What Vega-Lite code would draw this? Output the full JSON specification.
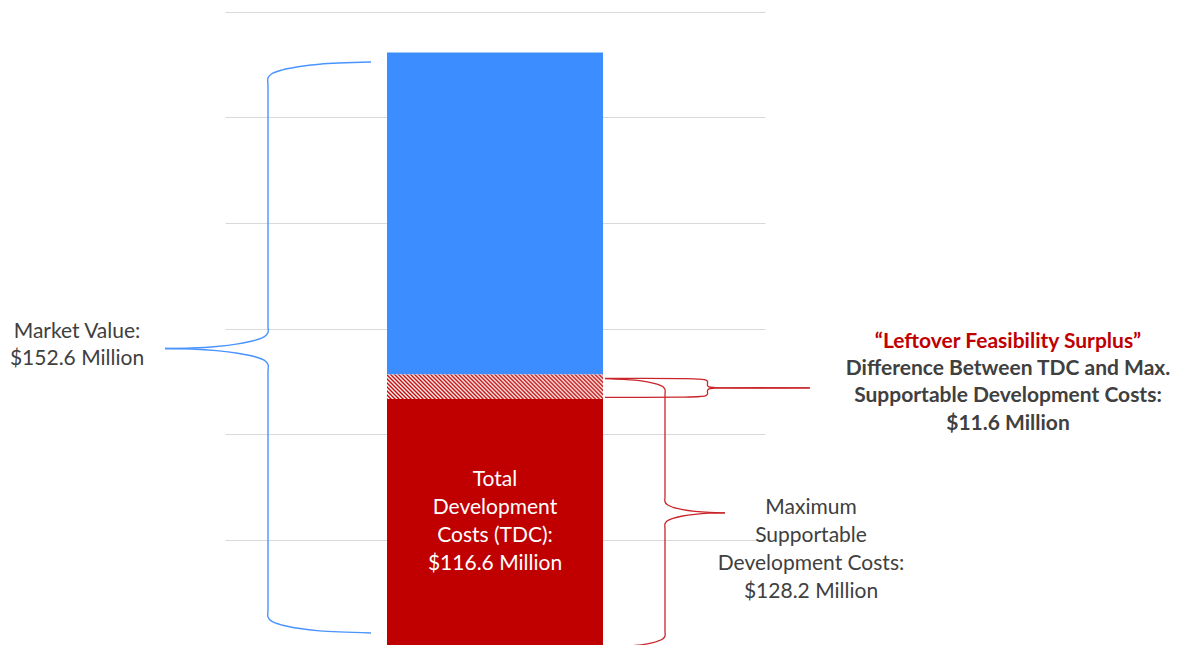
{
  "$schema": "https://vega.github.io/schema/vega-lite/v6.json",
  "width": 540,
  "height": 633,
  "autosize": {"type": "none"},
  "padding": {"left": 225, "top": 12, "right": 416, "bottom": 0},
  "background": "white",
  "config": {"view": {"stroke": null}, "text": {"font": "Lato"}},
  "datasets": {
    "segments": [
      {"segment": "Total Development Costs (TDC)", "value": 116.6, "stackOrder": 1},
      {"segment": "Leftover Feasibility Surplus", "value": 11.6, "stackOrder": 2},
      {"segment": "Market Value", "value": 152.6, "stackOrder": 3}
    ],
    "braces": [
      {"brace": "market", "part": "a", "i": 1, "bx": 146, "by": 276.27},
      {"brace": "market", "part": "a", "i": 2, "bx": 94.5, "by": 275.27},
      {"brace": "market", "part": "a", "i": 3, "bx": 73.2, "by": 274.03},
      {"brace": "market", "part": "a", "i": 4, "bx": 56.8, "by": 272.47},
      {"brace": "market", "part": "a", "i": 5, "bx": 46.5, "by": 270.62},
      {"brace": "market", "part": "a", "i": 6, "bx": 43, "by": 268.67},
      {"brace": "market", "part": "a", "i": 6.5, "bx": 43, "by": 265},
      {"brace": "market", "part": "a", "i": 6.7, "bx": 43, "by": 151.5},
      {"brace": "market", "part": "a", "i": 7, "bx": 43, "by": 148.1},
      {"brace": "market", "part": "a", "i": 8, "bx": 39.5, "by": 146.15},
      {"brace": "market", "part": "a", "i": 9, "bx": 29.2, "by": 144.3},
      {"brace": "market", "part": "a", "i": 10, "bx": 12.8, "by": 142.74},
      {"brace": "market", "part": "a", "i": 11, "bx": -8.5, "by": 141.5},
      {"brace": "market", "part": "a", "i": 12, "bx": -33.3, "by": 140.74},
      {"brace": "market", "part": "a", "i": 13, "bx": -60, "by": 140.51},
      {"brace": "market", "part": "b", "i": 13, "bx": -60, "by": 140.51},
      {"brace": "market", "part": "b", "i": 14, "bx": -33.3, "by": 140.27},
      {"brace": "market", "part": "b", "i": 15, "bx": -8.5, "by": 139.51},
      {"brace": "market", "part": "b", "i": 16, "bx": 12.8, "by": 138.28},
      {"brace": "market", "part": "b", "i": 17, "bx": 29.2, "by": 136.71},
      {"brace": "market", "part": "b", "i": 18, "bx": 39.5, "by": 134.86},
      {"brace": "market", "part": "b", "i": 19, "bx": 43, "by": 132.91},
      {"brace": "market", "part": "b", "i": 19.3, "bx": 43, "by": 129.5},
      {"brace": "market", "part": "b", "i": 19.7, "bx": 43, "by": 16.7},
      {"brace": "market", "part": "b", "i": 20, "bx": 43, "by": 13.29},
      {"brace": "market", "part": "b", "i": 21, "bx": 46.5, "by": 11.34},
      {"brace": "market", "part": "b", "i": 22, "bx": 56.8, "by": 9.49},
      {"brace": "market", "part": "b", "i": 23, "bx": 73.2, "by": 7.93},
      {"brace": "market", "part": "b", "i": 24, "bx": 94.5, "by": 6.69},
      {"brace": "market", "part": "b", "i": 25, "bx": 146, "by": 5.7},

      {"brace": "max", "part": "a", "i": 1, "bx": 380, "by": 126.27},
      {"brace": "max", "part": "a", "i": 2, "bx": 410, "by": 125.55},
      {"brace": "max", "part": "a", "i": 3, "bx": 422.4, "by": 124.75},
      {"brace": "max", "part": "a", "i": 4, "bx": 432, "by": 123.65},
      {"brace": "max", "part": "a", "i": 5, "bx": 438, "by": 122.37},
      {"brace": "max", "part": "a", "i": 6, "bx": 440, "by": 121.04},
      {"brace": "max", "part": "a", "i": 6.3, "bx": 440, "by": 118.5},
      {"brace": "max", "part": "a", "i": 6.7, "bx": 440, "by": 70.4},
      {"brace": "max", "part": "a", "i": 7, "bx": 440, "by": 67.88},
      {"brace": "max", "part": "a", "i": 8, "bx": 442, "by": 66.55},
      {"brace": "max", "part": "a", "i": 9, "bx": 448, "by": 65.27},
      {"brace": "max", "part": "a", "i": 10, "bx": 457.6, "by": 64.18},
      {"brace": "max", "part": "a", "i": 11, "bx": 470, "by": 63.37},
      {"brace": "max", "part": "a", "i": 12, "bx": 484.5, "by": 62.85},
      {"brace": "max", "part": "a", "i": 13, "bx": 500, "by": 62.66},
      {"brace": "max", "part": "b", "i": 13, "bx": 500, "by": 62.66},
      {"brace": "max", "part": "b", "i": 14, "bx": 484.5, "by": 62.47},
      {"brace": "max", "part": "b", "i": 15, "bx": 470, "by": 61.95},
      {"brace": "max", "part": "b", "i": 16, "bx": 457.6, "by": 61.14},
      {"brace": "max", "part": "b", "i": 17, "bx": 448, "by": 60.05},
      {"brace": "max", "part": "b", "i": 18, "bx": 442, "by": 58.77},
      {"brace": "max", "part": "b", "i": 19, "bx": 440, "by": 57.44},
      {"brace": "max", "part": "b", "i": 19.3, "bx": 440, "by": 54.9},
      {"brace": "max", "part": "b", "i": 19.7, "bx": 440, "by": 6.8},
      {"brace": "max", "part": "b", "i": 20, "bx": 440, "by": 4.27},
      {"brace": "max", "part": "b", "i": 21, "bx": 438, "by": 2.94},
      {"brace": "max", "part": "b", "i": 22, "bx": 432, "by": 1.66},
      {"brace": "max", "part": "b", "i": 23, "bx": 422.4, "by": 0.57},
      {"brace": "max", "part": "b", "i": 24, "bx": 410, "by": -0.24},
      {"brace": "max", "part": "b", "i": 25, "bx": 380, "by": -0.95},

      {"brace": "surplus", "part": "a", "i": 1, "bx": 380, "by": 126.41},
      {"brace": "surplus", "part": "a", "i": 2, "bx": 455, "by": 126.27},
      {"brace": "surplus", "part": "a", "i": 3, "bx": 475, "by": 125.98},
      {"brace": "surplus", "part": "a", "i": 4, "bx": 481, "by": 125.55},
      {"brace": "surplus", "part": "a", "i": 5, "bx": 482.5, "by": 124.84},
      {"brace": "surplus", "part": "a", "i": 6, "bx": 482.5, "by": 123.04},
      {"brace": "surplus", "part": "a", "i": 7, "bx": 484, "by": 122.33},
      {"brace": "surplus", "part": "a", "i": 8, "bx": 490, "by": 121.99},
      {"brace": "surplus", "part": "a", "i": 9, "bx": 585, "by": 121.85},
      {"brace": "surplus", "part": "b", "i": 9, "bx": 585, "by": 121.85},
      {"brace": "surplus", "part": "b", "i": 10, "bx": 490, "by": 121.71},
      {"brace": "surplus", "part": "b", "i": 11, "bx": 484, "by": 121.38},
      {"brace": "surplus", "part": "b", "i": 12, "bx": 482.5, "by": 120.66},
      {"brace": "surplus", "part": "b", "i": 13, "bx": 482.5, "by": 118.91},
      {"brace": "surplus", "part": "b", "i": 14, "bx": 481, "by": 118.2},
      {"brace": "surplus", "part": "b", "i": 15, "bx": 475, "by": 117.77},
      {"brace": "surplus", "part": "b", "i": 16, "bx": 455, "by": 117.48},
      {"brace": "surplus", "part": "b", "i": 17, "bx": 380, "by": 117.34}
    ]
  },
  "layer": [
    {
      "data": {"name": "segments"},
      "transform": [
        {"stack": "value", "groupby": [], "sort": [{"field": "stackOrder", "order": "ascending"}], "as": ["v0", "v1"]},
        {"filter": "datum.segment !== 'Leftover Feasibility Surplus'"}
      ],
      "mark": {"type": "rect"},
      "encoding": {
        "x": {"datum": 162, "type": "quantitative", "scale": {"domain": [0, 540], "nice": false, "zero": false}, "axis": null},
        "x2": {"datum": 378},
        "y": {"field": "v0", "type": "quantitative", "scale": {"domain": [0, 300], "nice": false},
              "axis": {"values": [50, 100, 150, 200, 250, 300], "grid": true, "gridColor": "#d9d9d9", "gridWidth": 1, "labels": false, "ticks": false, "domain": false, "title": null}},
        "y2": {"field": "v1"},
        "color": {"field": "segment", "type": "nominal", "scale": {"domain": ["Total Development Costs (TDC)", "Market Value"], "range": ["#C00000", "#3C8DFF"]}, "legend": null}
      }
    },
    {
      "data": {"name": "segments"},
      "transform": [
        {"stack": "value", "groupby": [], "sort": [{"field": "stackOrder", "order": "ascending"}], "as": ["v0", "v1"]},
        {"filter": "datum.segment === 'Leftover Feasibility Surplus'"}
      ],
      "mark": {"type": "rect", "fill": {"gradient": "linear", "x1": 0, "y1": 1, "x2": 1.099, "y2": 0.876, "stops": [
        {"offset": 0, "color": "#C00000"}, {"offset": 0.0083, "color": "#FFFFFF"}, {"offset": 0.0167, "color": "#C00000"}, {"offset": 0.025, "color": "#FFFFFF"},
        {"offset": 0.0333, "color": "#C00000"}, {"offset": 0.0417, "color": "#FFFFFF"}, {"offset": 0.05, "color": "#C00000"}, {"offset": 0.0583, "color": "#FFFFFF"},
        {"offset": 0.0667, "color": "#C00000"}, {"offset": 0.075, "color": "#FFFFFF"}, {"offset": 0.0833, "color": "#C00000"}, {"offset": 0.0917, "color": "#FFFFFF"},
        {"offset": 0.1, "color": "#C00000"}, {"offset": 0.1083, "color": "#FFFFFF"}, {"offset": 0.1167, "color": "#C00000"}, {"offset": 0.125, "color": "#FFFFFF"},
        {"offset": 0.1333, "color": "#C00000"}, {"offset": 0.1417, "color": "#FFFFFF"}, {"offset": 0.15, "color": "#C00000"}, {"offset": 0.1583, "color": "#FFFFFF"},
        {"offset": 0.1667, "color": "#C00000"}, {"offset": 0.175, "color": "#FFFFFF"}, {"offset": 0.1833, "color": "#C00000"}, {"offset": 0.1917, "color": "#FFFFFF"},
        {"offset": 0.2, "color": "#C00000"}, {"offset": 0.2083, "color": "#FFFFFF"}, {"offset": 0.2167, "color": "#C00000"}, {"offset": 0.225, "color": "#FFFFFF"},
        {"offset": 0.2333, "color": "#C00000"}, {"offset": 0.2417, "color": "#FFFFFF"}, {"offset": 0.25, "color": "#C00000"}, {"offset": 0.2583, "color": "#FFFFFF"},
        {"offset": 0.2667, "color": "#C00000"}, {"offset": 0.275, "color": "#FFFFFF"}, {"offset": 0.2833, "color": "#C00000"}, {"offset": 0.2917, "color": "#FFFFFF"},
        {"offset": 0.3, "color": "#C00000"}, {"offset": 0.3083, "color": "#FFFFFF"}, {"offset": 0.3167, "color": "#C00000"}, {"offset": 0.325, "color": "#FFFFFF"},
        {"offset": 0.3333, "color": "#C00000"}, {"offset": 0.3417, "color": "#FFFFFF"}, {"offset": 0.35, "color": "#C00000"}, {"offset": 0.3583, "color": "#FFFFFF"},
        {"offset": 0.3667, "color": "#C00000"}, {"offset": 0.375, "color": "#FFFFFF"}, {"offset": 0.3833, "color": "#C00000"}, {"offset": 0.3917, "color": "#FFFFFF"},
        {"offset": 0.4, "color": "#C00000"}, {"offset": 0.4083, "color": "#FFFFFF"}, {"offset": 0.4167, "color": "#C00000"}, {"offset": 0.425, "color": "#FFFFFF"},
        {"offset": 0.4333, "color": "#C00000"}, {"offset": 0.4417, "color": "#FFFFFF"}, {"offset": 0.45, "color": "#C00000"}, {"offset": 0.4583, "color": "#FFFFFF"},
        {"offset": 0.4667, "color": "#C00000"}, {"offset": 0.475, "color": "#FFFFFF"}, {"offset": 0.4833, "color": "#C00000"}, {"offset": 0.4917, "color": "#FFFFFF"},
        {"offset": 0.5, "color": "#C00000"}, {"offset": 0.5083, "color": "#FFFFFF"}, {"offset": 0.5167, "color": "#C00000"}, {"offset": 0.525, "color": "#FFFFFF"},
        {"offset": 0.5333, "color": "#C00000"}, {"offset": 0.5417, "color": "#FFFFFF"}, {"offset": 0.55, "color": "#C00000"}, {"offset": 0.5583, "color": "#FFFFFF"},
        {"offset": 0.5667, "color": "#C00000"}, {"offset": 0.575, "color": "#FFFFFF"}, {"offset": 0.5833, "color": "#C00000"}, {"offset": 0.5917, "color": "#FFFFFF"},
        {"offset": 0.6, "color": "#C00000"}, {"offset": 0.6083, "color": "#FFFFFF"}, {"offset": 0.6167, "color": "#C00000"}, {"offset": 0.625, "color": "#FFFFFF"},
        {"offset": 0.6333, "color": "#C00000"}, {"offset": 0.6417, "color": "#FFFFFF"}, {"offset": 0.65, "color": "#C00000"}, {"offset": 0.6583, "color": "#FFFFFF"},
        {"offset": 0.6667, "color": "#C00000"}, {"offset": 0.675, "color": "#FFFFFF"}, {"offset": 0.6833, "color": "#C00000"}, {"offset": 0.6917, "color": "#FFFFFF"},
        {"offset": 0.7, "color": "#C00000"}, {"offset": 0.7083, "color": "#FFFFFF"}, {"offset": 0.7167, "color": "#C00000"}, {"offset": 0.725, "color": "#FFFFFF"},
        {"offset": 0.7333, "color": "#C00000"}, {"offset": 0.7417, "color": "#FFFFFF"}, {"offset": 0.75, "color": "#C00000"}, {"offset": 0.7583, "color": "#FFFFFF"},
        {"offset": 0.7667, "color": "#C00000"}, {"offset": 0.775, "color": "#FFFFFF"}, {"offset": 0.7833, "color": "#C00000"}, {"offset": 0.7917, "color": "#FFFFFF"},
        {"offset": 0.8, "color": "#C00000"}, {"offset": 0.8083, "color": "#FFFFFF"}, {"offset": 0.8167, "color": "#C00000"}, {"offset": 0.825, "color": "#FFFFFF"},
        {"offset": 0.8333, "color": "#C00000"}, {"offset": 0.8417, "color": "#FFFFFF"}, {"offset": 0.85, "color": "#C00000"}, {"offset": 0.8583, "color": "#FFFFFF"},
        {"offset": 0.8667, "color": "#C00000"}, {"offset": 0.875, "color": "#FFFFFF"}, {"offset": 0.8833, "color": "#C00000"}, {"offset": 0.8917, "color": "#FFFFFF"},
        {"offset": 0.9, "color": "#C00000"}, {"offset": 0.9083, "color": "#FFFFFF"}, {"offset": 0.9167, "color": "#C00000"}, {"offset": 0.925, "color": "#FFFFFF"},
        {"offset": 0.9333, "color": "#C00000"}, {"offset": 0.9417, "color": "#FFFFFF"}, {"offset": 0.95, "color": "#C00000"}, {"offset": 0.9583, "color": "#FFFFFF"},
        {"offset": 0.9667, "color": "#C00000"}, {"offset": 0.975, "color": "#FFFFFF"}, {"offset": 0.9833, "color": "#C00000"}, {"offset": 0.9917, "color": "#FFFFFF"},
        {"offset": 1, "color": "#C00000"}
      ]}},
      "encoding": {
        "x": {"datum": 162, "type": "quantitative", "scale": {"domain": [0, 540], "nice": false, "zero": false}, "axis": null},
        "x2": {"datum": 378},
        "y": {"field": "v0", "type": "quantitative", "scale": {"domain": [0, 300], "nice": false},
              "axis": {"values": [50, 100, 150, 200, 250, 300], "grid": true, "gridColor": "#d9d9d9", "gridWidth": 1, "labels": false, "ticks": false, "domain": false, "title": null}},
        "y2": {"field": "v1"}
      }
    },
    {
      "data": {"name": "braces"},
      "transform": [{"filter": "datum.brace === 'market'"}],
      "mark": {"type": "line", "interpolate": "catmull-rom", "color": "#4A94FF", "strokeWidth": 1.4},
      "encoding": {
        "x": {"field": "bx", "type": "quantitative", "scale": {"domain": [0, 540], "nice": false, "zero": false}, "axis": null},
        "y": {"field": "by", "type": "quantitative", "scale": {"domain": [0, 300], "nice": false},
              "axis": {"values": [50, 100, 150, 200, 250, 300], "grid": true, "gridColor": "#d9d9d9", "gridWidth": 1, "labels": false, "ticks": false, "domain": false, "title": null}},
        "detail": [{"field": "brace", "type": "nominal"}, {"field": "part", "type": "nominal"}],
        "order": {"field": "i", "type": "quantitative"}
      }
    },
    {
      "data": {"name": "braces"},
      "transform": [{"filter": "datum.brace !== 'market'"}],
      "mark": {"type": "line", "interpolate": "catmull-rom", "color": "#C9262B", "strokeWidth": 1.3},
      "encoding": {
        "x": {"field": "bx", "type": "quantitative", "scale": {"domain": [0, 540], "nice": false, "zero": false}, "axis": null},
        "y": {"field": "by", "type": "quantitative", "scale": {"domain": [0, 300], "nice": false},
              "axis": {"values": [50, 100, 150, 200, 250, 300], "grid": true, "gridColor": "#d9d9d9", "gridWidth": 1, "labels": false, "ticks": false, "domain": false, "title": null}},
        "detail": [{"field": "brace", "type": "nominal"}, {"field": "part", "type": "nominal"}],
        "order": {"field": "i", "type": "quantitative"}
      }
    },
    {
      "data": {"values": [{"label": "Total\nDevelopment\nCosts (TDC):\n$116.6 Million"}]},
      "mark": {"type": "text", "font": "Lato", "fontSize": 21, "lineHeight": 28, "lineBreak": "\n", "color": "#FFFFFF", "align": "center", "baseline": "middle"},
      "encoding": {
        "x": {"datum": 270, "type": "quantitative", "scale": {"domain": [0, 540], "nice": false, "zero": false}, "axis": null},
        "y": {"datum": 78.4, "type": "quantitative", "scale": {"domain": [0, 300], "nice": false},
              "axis": {"values": [50, 100, 150, 200, 250, 300], "grid": true, "gridColor": "#d9d9d9", "gridWidth": 1, "labels": false, "ticks": false, "domain": false, "title": null}},
        "text": {"field": "label", "type": "nominal"}
      }
    },
    {
      "data": {"values": [{"label": "Market Value:\n$152.6 Million"}]},
      "mark": {"type": "text", "font": "Lato", "fontSize": 21, "lineHeight": 27, "lineBreak": "\n", "color": "#404040", "align": "center", "baseline": "middle"},
      "encoding": {
        "x": {"datum": -148, "type": "quantitative", "scale": {"domain": [0, 540], "nice": false, "zero": false}, "axis": null},
        "y": {"datum": 148.4, "type": "quantitative", "scale": {"domain": [0, 300], "nice": false},
              "axis": {"values": [50, 100, 150, 200, 250, 300], "grid": true, "gridColor": "#d9d9d9", "gridWidth": 1, "labels": false, "ticks": false, "domain": false, "title": null}},
        "text": {"field": "label", "type": "nominal"}
      }
    },
    {
      "data": {"values": [{"label": "Maximum\nSupportable\nDevelopment Costs:\n$128.2 Million"}]},
      "mark": {"type": "text", "font": "Lato", "fontSize": 21, "lineHeight": 28, "lineBreak": "\n", "color": "#404040", "align": "center", "baseline": "middle"},
      "encoding": {
        "x": {"datum": 586, "type": "quantitative", "scale": {"domain": [0, 540], "nice": false, "zero": false}, "axis": null},
        "y": {"datum": 65.1, "type": "quantitative", "scale": {"domain": [0, 300], "nice": false},
              "axis": {"values": [50, 100, 150, 200, 250, 300], "grid": true, "gridColor": "#d9d9d9", "gridWidth": 1, "labels": false, "ticks": false, "domain": false, "title": null}},
        "text": {"field": "label", "type": "nominal"}
      }
    },
    {
      "data": {"values": [{"label": "“Leftover Feasibility Surplus”"}]},
      "mark": {"type": "text", "font": "Lato", "fontSize": 21, "fontWeight": "bold", "color": "#C00000", "align": "center", "baseline": "middle"},
      "encoding": {
        "x": {"datum": 783, "type": "quantitative", "scale": {"domain": [0, 540], "nice": false, "zero": false}, "axis": null},
        "y": {"datum": 143.8, "type": "quantitative", "scale": {"domain": [0, 300], "nice": false},
              "axis": {"values": [50, 100, 150, 200, 250, 300], "grid": true, "gridColor": "#d9d9d9", "gridWidth": 1, "labels": false, "ticks": false, "domain": false, "title": null}},
        "text": {"field": "label", "type": "nominal"}
      }
    },
    {
      "data": {"values": [{"label": "Difference Between TDC and Max.\nSupportable Development Costs:\n$11.6 Million"}]},
      "mark": {"type": "text", "font": "Lato", "fontSize": 21, "fontWeight": "bold", "lineHeight": 27.5, "lineBreak": "\n", "color": "#404040", "align": "center", "baseline": "middle"},
      "encoding": {
        "x": {"datum": 783, "type": "quantitative", "scale": {"domain": [0, 540], "nice": false, "zero": false}, "axis": null},
        "y": {"datum": 131.0, "type": "quantitative", "scale": {"domain": [0, 300], "nice": false},
              "axis": {"values": [50, 100, 150, 200, 250, 300], "grid": true, "gridColor": "#d9d9d9", "gridWidth": 1, "labels": false, "ticks": false, "domain": false, "title": null}},
        "text": {"field": "label", "type": "nominal"}
      }
    }
  ]
}
